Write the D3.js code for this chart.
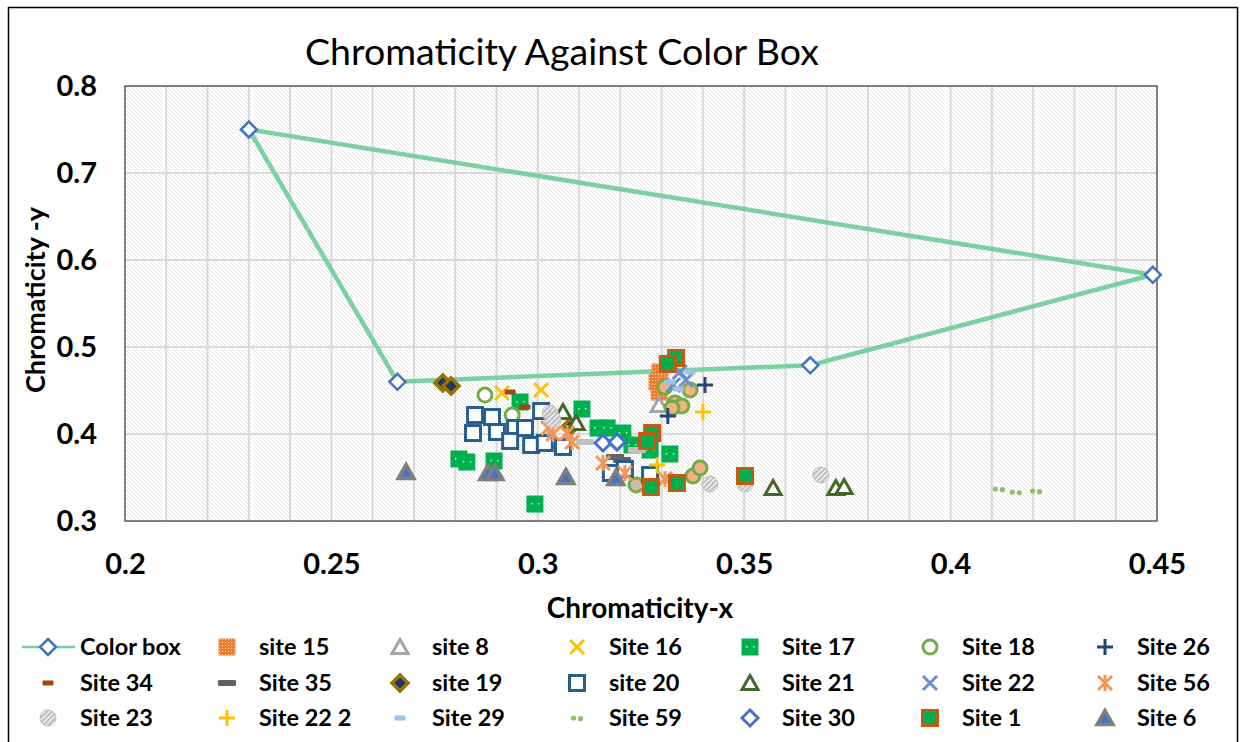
<!DOCTYPE html>
<html>
<head>
<meta charset="utf-8">
<title>Chromaticity Against Color Box</title>
<script src="https://d3js.org/d3.v7.min.js"></script>
<style>
  body { margin: 0; background: #fff; }
  svg text { font-family: Lato, "Open Sans", sans-serif; fill: #000; }
  .axis text { font-weight: bold; font-size: 29px; }
  .legend text { font-weight: bold; font-size: 23.5px; }
</style>
</head>
<body>
<script>
// ---- data: [x, y] pairs ----
var xTicks = [0.2, 0.25, 0.3, 0.35, 0.4, 0.45];
var yTicks = [0.3, 0.4, 0.5, 0.6, 0.7, 0.8];

var colorBox = [[0.23, 0.75], [0.449, 0.583], [0.366, 0.479], [0.266, 0.46], [0.23, 0.75]];
var site15 = [[0.3296, 0.4713], [0.3289, 0.4598], [0.3294, 0.4483]];
var site8 = [[0.3294, 0.4333]];
var site16 = [[0.2913, 0.4471], [0.3008, 0.4506]];
var site17 = [[0.2809, 0.3713], [0.2828, 0.3678], [0.2894, 0.3690], [0.2993, 0.3195], [0.2957, 0.4368],
              [0.3107, 0.4287], [0.3146, 0.4069], [0.3168, 0.4069], [0.3206, 0.4011], [0.3228, 0.3874],
              [0.3272, 0.3816], [0.3320, 0.3770]];
var site18 = [[0.2872, 0.4448], [0.2938, 0.4218]];
var site18b = [[0.3308, 0.4540], [0.3369, 0.4506], [0.3332, 0.4356], [0.3349, 0.4322], [0.3325, 0.4299],
               [0.3238, 0.3414], [0.3376, 0.3517], [0.3393, 0.3609]];
var site26 = [[0.3405, 0.4563], [0.3315, 0.4207]];
var site34 = [[0.2933, 0.4483], [0.2969, 0.4310]];
var site35 = [[0.3187, 0.3736], [0.3204, 0.3701]];
var site35b = [[0.3114, 0.3908], [0.3240, 0.3816], [0.3248, 0.3414]];
var site19 = [[0.2770, 0.4586], [0.2790, 0.4552], [0.3078, 0.4080]];
var site20 = [[0.2848, 0.4218], [0.2889, 0.4195], [0.2843, 0.4011], [0.2901, 0.4023], [0.2945, 0.4069],
              [0.2969, 0.4069], [0.2933, 0.3920], [0.2984, 0.3874], [0.3017, 0.3897], [0.3008, 0.4264],
              [0.3061, 0.3851], [0.3177, 0.3552], [0.3211, 0.3598], [0.3272, 0.3529]];
var site21 = [[0.3061, 0.4253], [0.3093, 0.4126], [0.3570, 0.3379], [0.3722, 0.3379], [0.3742, 0.3391]];
var site22 = [[0.3344, 0.4713], [0.3359, 0.4621], [0.3328, 0.4563]];
var site56 = [[0.3025, 0.4069], [0.3037, 0.4000], [0.3083, 0.3908], [0.3071, 0.4011], [0.3158, 0.3667],
              [0.3211, 0.3552], [0.3308, 0.3483]];
var site23 = [[0.3030, 0.4241], [0.3037, 0.4161], [0.3417, 0.3425], [0.3686, 0.3529], [0.3502, 0.3425]];
var site22b = [[0.3400, 0.4253], [0.3289, 0.3644]];
var site29 = [[0.3320, 0.4598], [0.3369, 0.4713], [0.3340, 0.4517]];
var site59 = [[0.4117, 0.3368], [0.4158, 0.3333], [0.4207, 0.3345]];
var site30 = [[0.3158, 0.3897], [0.3192, 0.3908]];
var site1 = [[0.3335, 0.4874], [0.3315, 0.4805], [0.3277, 0.4011], [0.3265, 0.3920], [0.3337, 0.3437],
             [0.3274, 0.3391], [0.3502, 0.3517]];
var site6 = [[0.2681, 0.3563], [0.2879, 0.3552], [0.2896, 0.3552], [0.3068, 0.3506], [0.3189, 0.3494]];

// series in drawing / legend order
var series = [
  {name: "Color box", data: colorBox, mark: "diamond", line: true, fill: "#fff", stroke: "#4472c4"},
  {name: "site 15", data: site15, mark: "square", fill: "url(#dots15)", stroke: "none"},
  {name: "site 8", data: site8, mark: "triangle", fill: "#fff", stroke: "#a5a5a5"},
  {name: "Site 16", data: site16, mark: "x", stroke: "#ffc000"},
  {name: "Site 17", data: site17, mark: "square17", fill: "#00b050", stroke: "none"},
  {name: "Site 18", data: site18, extra: site18b, extraFill: "#f4b183", mark: "circle", fill: "#fff", stroke: "#70ad47"},
  {name: "Site 26", data: site26, mark: "plus", stroke: "#264478"},
  {name: "Site 34", data: site34, mark: "dash", fill: "#9e480e", dw: 11, dh: 5},
  {name: "Site 35", data: site35, extra: site35b, extraFill: "#c0c0c0", mark: "dash", fill: "#636363", dw: 18, dh: 6},
  {name: "site 19", data: site19, mark: "diamond", fill: "#1f3864", stroke: "#997300", sw: 3.5},
  {name: "site 20", data: site20, mark: "square", fill: "#fff", stroke: "#255e91", sw: 3},
  {name: "Site 21", data: site21, mark: "triangle", fill: "#fff", stroke: "#43682b"},
  {name: "Site 22", data: site22, mark: "x", stroke: "#698ed0"},
  {name: "Site 56", data: site56, mark: "star", stroke: "#f1975a"},
  {name: "Site 23", data: site23, mark: "circle", fill: "url(#stripe23)", stroke: "#bfbfbf", sw: 1},
  {name: "Site 22 2", data: site22b, mark: "plus", stroke: "#ffc000"},
  {name: "Site 29", data: site29, mark: "dash", fill: "#9dc3e6", dw: 11, dh: 5},
  {name: "Site 59", data: site59, mark: "dots", fill: "#8cc168"},
  {name: "Site 30", data: site30, mark: "diamond", fill: "#fff", stroke: "#4472c4", sw: 3},
  {name: "Site 1", data: site1, mark: "square", fill: "#00b050", stroke: "#c55a11", sw: 3},
  {name: "Site 6", data: site6, mark: "triangleFill", fill: "#4472c4", stroke: "#7f7f7f"}
];

var w = 1241, h = 742;
var plot = {left: 125, top: 86, right: 1157, bottom: 521};

var svg = d3.select("body").append("svg")
  .attr("width", w)
  .attr("height", h);

var defs = svg.append("defs");

// diagonal hatch of the plot area
var hatch = defs.append("pattern").attr("id", "hatch")
  .attr("patternUnits", "userSpaceOnUse").attr("width", 4).attr("height", 4);
hatch.append("rect").attr("width", 4).attr("height", 4).attr("fill", "#fff");
hatch.append("path").attr("d", "M-1,-1L5,5M-1,3L1,5M3,-1L5,1")
  .attr("stroke", "#e2e2e2").attr("stroke-width", 0.9);

// site 15 dotted fill
var dots = defs.append("pattern").attr("id", "dots15")
  .attr("patternUnits", "userSpaceOnUse").attr("width", 3).attr("height", 3);
dots.append("rect").attr("width", 3).attr("height", 3).attr("fill", "#ed7d31");
dots.append("rect").attr("x", 1).attr("y", 1).attr("width", 1).attr("height", 1).attr("fill", "#fbd5b5");

// site 23 striped fill
var stripe = defs.append("pattern").attr("id", "stripe23")
  .attr("patternUnits", "userSpaceOnUse").attr("width", 5).attr("height", 5);
stripe.append("rect").attr("width", 5).attr("height", 5).attr("fill", "#bfbfbf");
stripe.append("path").attr("d", "M-1,6L6,-1M-1,1L1,-1M4,6L6,4")
  .attr("stroke", "#fff").attr("stroke-width", 1.2);

// outer chart border
svg.append("rect")
  .attr("x", 8.5).attr("y", 7.5)
  .attr("width", 1229).attr("height", 800)
  .attr("fill", "none").attr("stroke", "#000").attr("stroke-width", 1.5);

var xScale = d3.scaleLinear().domain([0.2, 0.45]).range([plot.left, plot.right]);
var yScale = d3.scaleLinear().domain([0.3, 0.8]).range([plot.bottom, plot.top]);

// plot background
svg.append("rect")
  .attr("x", plot.left).attr("y", plot.top)
  .attr("width", plot.right - plot.left).attr("height", plot.bottom - plot.top)
  .attr("fill", "url(#hatch)");

// gridlines
svg.append("g").selectAll("line")
  .data(d3.range(21, 45).map(function(d) { return d / 100; }))
  .enter().append("line")
  .attr("x1", function(d) { return xScale(d); }).attr("x2", function(d) { return xScale(d); })
  .attr("y1", plot.top).attr("y2", plot.bottom)
  .attr("stroke", "#d9d9d9").attr("stroke-width", 2);

svg.append("g").selectAll("line")
  .data(yTicks.slice(1, -1))
  .enter().append("line")
  .attr("y1", function(d) { return yScale(d); }).attr("y2", function(d) { return yScale(d); })
  .attr("x1", plot.left).attr("x2", plot.right)
  .attr("stroke", "#d9d9d9").attr("stroke-width", 2);

svg.append("rect")
  .attr("x", plot.left).attr("y", plot.top)
  .attr("width", plot.right - plot.left).attr("height", plot.bottom - plot.top)
  .attr("fill", "none").attr("stroke", "#595959").attr("stroke-width", 1.5);

// axes
var fmt = function(d) { return String(+d.toFixed(2)); };

svg.append("g")
  .attr("class", "axis")
  .attr("transform", "translate(0," + plot.bottom + ")")
  .call(d3.axisBottom(xScale).tickValues(xTicks).tickFormat(fmt).tickSize(0).tickPadding(32))
  .call(function(g) { g.select(".domain").remove(); });

svg.append("g")
  .attr("class", "axis")
  .attr("transform", "translate(" + plot.left + ",0)")
  .call(d3.axisLeft(yScale).tickValues(yTicks).tickFormat(fmt).tickSize(0).tickPadding(28))
  .call(function(g) { g.select(".domain").remove(); });

// titles
svg.append("text")
  .attr("x", 562).attr("y", 65)
  .attr("text-anchor", "middle")
  .style("font-size", "37.5px")
  .text("Chromaticity Against Color Box");

svg.append("text")
  .attr("x", 640).attr("y", 618)
  .attr("text-anchor", "middle")
  .style("font-size", "28px").style("font-weight", "bold")
  .text("Chromaticity-x");

svg.append("text")
  .attr("transform", "translate(45,300) rotate(-90)")
  .attr("text-anchor", "middle")
  .style("font-size", "27px").style("font-weight", "bold")
  .text("Chromaticity -y");

// marker drawing
function drawMark(g, s, fill) {
  var f = fill || s.fill;
  var sw = s.sw || 3;
  if (s.mark === "diamond") {
    var r = 8;
    g.append("path").attr("d", "M0," + (-r) + "L" + r + ",0L0," + r + "L" + (-r) + ",0Z")
      .attr("fill", f).attr("stroke", s.stroke).attr("stroke-width", s.sw || 2.5);
  } else if (s.mark === "square" || s.mark === "square17") {
    var a = s.mark === "square17" ? 17 : (s.sw ? 15 : 17);
    g.append("rect").attr("x", -a / 2).attr("y", -a / 2).attr("width", a).attr("height", a)
      .attr("fill", f).attr("stroke", s.stroke).attr("stroke-width", sw);
    if (s.mark === "square17") {
      g.append("rect").attr("x", -4).attr("y", -1).attr("width", 1.5).attr("height", 1.5).attr("fill", "#c8f0d8");
      g.append("rect").attr("x", 3).attr("y", -1).attr("width", 1.5).attr("height", 1.5).attr("fill", "#c8f0d8");
    }
  } else if (s.mark === "triangle" || s.mark === "triangleFill") {
    g.append("path").attr("d", "M0,-7.5L8,6.5L-8,6.5Z")
      .attr("fill", f).attr("stroke", s.stroke).attr("stroke-width", s.mark === "triangleFill" ? 3.5 : 3)
      .attr("stroke-linejoin", "miter");
  } else if (s.mark === "x") {
    g.append("path").attr("d", "M-7,-7L7,7M-7,7L7,-7")
      .attr("stroke", s.stroke).attr("stroke-width", sw);
  } else if (s.mark === "plus") {
    g.append("path").attr("d", "M-8,0L8,0M0,-8L0,8")
      .attr("stroke", s.stroke).attr("stroke-width", sw);
  } else if (s.mark === "star") {
    g.append("path").attr("d", "M-7,-7L7,7M-7,7L7,-7M0,-8L0,8")
      .attr("stroke", s.stroke).attr("stroke-width", sw);
  } else if (s.mark === "circle") {
    g.append("circle").attr("r", s.sw === 1 ? 8 : 7)
      .attr("fill", f).attr("stroke", s.stroke).attr("stroke-width", sw);
  } else if (s.mark === "dash") {
    g.append("rect").attr("x", -s.dw / 2).attr("y", -s.dh / 2).attr("width", s.dw).attr("height", s.dh)
      .attr("rx", 1).attr("fill", f);
  } else if (s.mark === "dots") {
    g.append("circle").attr("cx", -3.5).attr("r", 2.6).attr("fill", f);
    g.append("circle").attr("cx", 3.5).attr("cy", 0.7).attr("r", 2.6).attr("fill", f);
  }
}

// color box line
var line = d3.line()
  .x(function(d) { return xScale(d[0]); })
  .y(function(d) { return yScale(d[1]); });

svg.append("path")
  .datum(colorBox)
  .attr("d", line)
  .attr("fill", "none")
  .attr("stroke", "#74cf9c")
  .attr("stroke-width", 4.5)
  .attr("stroke-linejoin", "round")
  .attr("stroke-opacity", 0.95);

// points
series.forEach(function(s) {
  var layer = svg.append("g");
  var pts = s.line ? s.data.slice(0, -1) : s.data;
  layer.selectAll("g.base").data(pts).enter().append("g")
    .attr("transform", function(d) { return "translate(" + xScale(d[0]) + "," + yScale(d[1]) + ")"; })
    .each(function() { drawMark(d3.select(this), s); });
  if (s.extra) {
    layer.selectAll("g.extra").data(s.extra).enter().append("g")
      .attr("transform", function(d) { return "translate(" + xScale(d[0]) + "," + yScale(d[1]) + ")"; })
      .each(function() { drawMark(d3.select(this), s, s.extraFill); });
  }
});

// legend
var legX = [48, 227, 400, 577, 750, 930, 1105];
var legY = [647, 683, 718];

var legend = svg.append("g").attr("class", "legend");
series.forEach(function(s, i) {
  var cx = legX[i % 7], cy = legY[Math.floor(i / 7)];
  var g = legend.append("g").attr("transform", "translate(" + cx + "," + cy + ")");
  if (s.line) {
    g.append("line").attr("x1", -26).attr("x2", 27)
      .attr("stroke", "#74cf9c").attr("stroke-width", 2.5);
  }
  drawMark(g, s);
  legend.append("text")
    .attr("x", cx + 32).attr("y", cy)
    .attr("dy", "0.36em")
    .text(s.name);
});
</script>
</body>
</html>
